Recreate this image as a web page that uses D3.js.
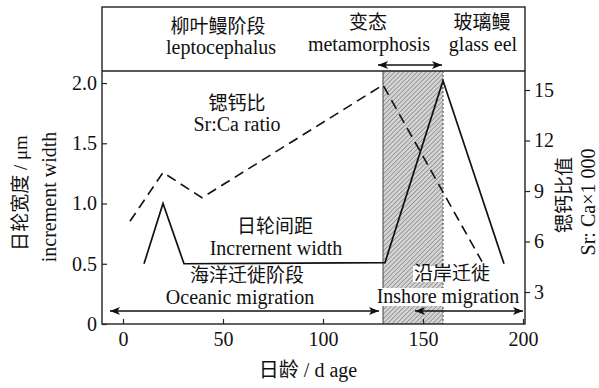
<!DOCTYPE html>
<html>
<head>
<meta charset="utf-8">
<script src="https://cdn.jsdelivr.net/npm/d3@7"></script>
<style>
  body { margin: 0; background: #fff; }
  text { font-family: "Liberation Serif", "Noto Sans CJK SC", serif; fill: #111; }
</style>
</head>
<body>
<div id="chart"></div>
<script>
// increment width (left axis, µm)
const widthDays = [10.5, 20, 30.5, 131, 160, 190.5];
const widthValues = [0.5, 1.0, 0.5, 0.51, 2.02, 0.5];

// Sr:Ca x 1000 (right axis)
const srcaDays = [3.5, 20, 39.5, 130, 179.5];
const srcaValues = [7.2, 10.1, 8.6, 15.3, 4.8];

// metamorphosis period (days)
const metaStart = 130;
const metaEnd = 160;

const xTicks = [0, 50, 100, 150, 200];
const yLeftTicks = [0, 0.5, 1.0, 1.5, 2.0];
const yRightTicks = [3, 6, 9, 12, 15];

const width = 599;
const height = 388;
const mLeft = 102, mRight = 525, mTop = 7, mHeader = 71, mBottom = 324;

const svg = d3.select("#chart")
  .append("svg")
  .attr("width", width)
  .attr("height", height);

const x = d3.scaleLinear().domain([-10.5, 201]).range([mLeft, mRight]);
const yL = d3.scaleLinear().domain([0, 2.1]).range([mBottom, mHeader]);
const yR = d3.scaleLinear().domain([1.1, 16.13]).range([mBottom, mHeader]);

const defs = svg.append("defs");

// hatch for the metamorphosis band
const pat = defs.append("pattern")
  .attr("id", "hatch")
  .attr("patternUnits", "userSpaceOnUse")
  .attr("width", 3.2)
  .attr("height", 3.2)
  .attr("patternTransform", "rotate(45)");
pat.append("rect").attr("width", 3.2).attr("height", 3.2).attr("fill", "#d4d4d4");
pat.append("line")
  .attr("x1", 0).attr("y1", 0).attr("x2", 0).attr("y2", 3.2)
  .attr("stroke", "#6e6e6e").attr("stroke-width", 1.1);

function arrowMarker(id, orient) {
  defs.append("marker")
    .attr("id", id)
    .attr("viewBox", "0 0 10 8")
    .attr("refX", 10)
    .attr("refY", 4)
    .attr("markerWidth", 10)
    .attr("markerHeight", 8)
    .attr("markerUnits", "userSpaceOnUse")
    .attr("orient", orient)
    .append("path")
    .attr("d", "M0,0 L10,4 L0,8 L2.5,4 Z")
    .attr("fill", "#111");
}
arrowMarker("arrEnd", "auto");
arrowMarker("arrStart", "auto-start-reverse");

// shaded band
svg.append("rect")
  .attr("x", x(metaStart))
  .attr("y", mHeader)
  .attr("width", x(metaEnd) - x(metaStart))
  .attr("height", mBottom - mHeader)
  .attr("fill", "url(#hatch)");
svg.append("line")
  .attr("x1", x(metaStart)).attr("x2", x(metaStart))
  .attr("y1", mHeader).attr("y2", mBottom)
  .attr("stroke", "#444").attr("stroke-width", 1);
svg.append("line")
  .attr("x1", x(metaEnd)).attr("x2", x(metaEnd))
  .attr("y1", mHeader).attr("y2", mBottom)
  .attr("stroke", "#444").attr("stroke-width", 1)
  .attr("stroke-dasharray", "2,2");

// text labels with optional white backing
function label(txt, px, py, opts = {}) {
  const t = svg.append("text")
    .attr("x", px)
    .attr("y", py)
    .attr("text-anchor", opts.anchor || "middle")
    .attr("font-size", opts.size || 20)
    .text(txt);
  if (opts.box) {
    const b = t.node().getBBox();
    svg.insert("rect", () => t.node())
      .attr("x", b.x - 1).attr("y", b.y + 3)
      .attr("width", b.width + 2).attr("height", b.height - 5)
      .attr("fill", "#fff");
  }
  return t;
}

// lines
const widthData = widthDays.map((d, i) => ({ day: d, v: widthValues[i] }));
const srcaData = srcaDays.map((d, i) => ({ day: d, v: srcaValues[i] }));

svg.append("path")
  .datum(widthData)
  .attr("fill", "none")
  .attr("stroke", "#111")
  .attr("stroke-width", 1.7)
  .attr("d", d3.line().x(d => x(d.day)).y(d => yL(d.v)));

svg.append("path")
  .datum(srcaData)
  .attr("fill", "none")
  .attr("stroke", "#111")
  .attr("stroke-width", 1.6)
  .attr("stroke-dasharray", "10,6")
  .attr("d", d3.line().x(d => x(d.day)).y(d => yR(d.v)));

// frame
svg.append("rect")
  .attr("x", mLeft).attr("y", mTop)
  .attr("width", mRight - mLeft).attr("height", mBottom - mTop)
  .attr("fill", "none").attr("stroke", "#222").attr("stroke-width", 1.4);
svg.append("line")
  .attr("x1", mLeft).attr("x2", mRight)
  .attr("y1", mHeader).attr("y2", mHeader)
  .attr("stroke", "#222").attr("stroke-width", 1.4);

// axes
const gx = svg.append("g")
  .attr("transform", `translate(0,${mBottom})`)
  .call(d3.axisBottom(x).tickValues(xTicks).tickSize(-5).tickPadding(8));
const gl = svg.append("g")
  .attr("transform", `translate(${mLeft},0)`)
  .call(d3.axisLeft(yL).tickValues(yLeftTicks).tickSize(-5).tickPadding(5)
    .tickFormat(d => d === 0 ? "0" : d.toFixed(1)));
const gr = svg.append("g")
  .attr("transform", `translate(${mRight},0)`)
  .call(d3.axisRight(yR).tickValues(yRightTicks).tickSize(5).tickPadding(4));

[gx, gl, gr].forEach(g => {
  g.select(".domain").remove();
  g.selectAll(".tick line").attr("stroke", "#222").attr("stroke-width", 1.2);
  g.selectAll(".tick text")
    .attr("font-family", "Liberation Serif, serif")
    .attr("font-size", 20)
    .attr("fill", "#111");
});

// header labels
label("柳叶鳗阶段", 218, 33, { size: 19 });
label("leptocephalus", 221, 54);
label("变态", 368, 29, { size: 19 });
label("metamorphosis", 369, 51);
label("玻璃鳗", 482, 29, { size: 19 });
label("glass eel", 483, 51);

// metamorphosis double arrow
svg.append("line")
  .attr("x1", x(metaStart) - 5).attr("x2", x(metaEnd) - 1)
  .attr("y1", 65).attr("y2", 65)
  .attr("stroke", "#111").attr("stroke-width", 1.4)
  .attr("marker-start", "url(#arrStart)")
  .attr("marker-end", "url(#arrEnd)");

// series labels
label("锶钙比", 237, 110, { size: 19 });
label("Sr:Ca ratio", 237, 131);
label("日轮间距", 275, 233, { size: 19 });
label("Incrernent width", 276, 255);
label("海洋迁徙阶段", 247, 282, { size: 19 });
label("Oceanic migration", 240, 304);
label("沿岸迁徙", 452, 280, { size: 19, box: true });
label("Inshore migration", 448, 303, { box: true });

// migration arrows
svg.append("line")
  .attr("x1", 110).attr("x2", x(metaStart) - 4)
  .attr("y1", 311).attr("y2", 311)
  .attr("stroke", "#111").attr("stroke-width", 1.4)
  .attr("marker-start", "url(#arrStart)")
  .attr("marker-end", "url(#arrEnd)");
svg.append("line")
  .attr("x1", 415).attr("x2", mRight - 2)
  .attr("y1", 311).attr("y2", 311)
  .attr("stroke", "#111").attr("stroke-width", 1.4)
  .attr("marker-start", "url(#arrStart)")
  .attr("marker-end", "url(#arrEnd)");

// axis titles
label("日龄 / d age", 308, 377);
label("日轮宽度 / μm", 0, 0, { size: 19 })
  .attr("transform", "translate(27,193) rotate(-90)");
label("increment width", 0, 0)
  .attr("transform", "translate(56,197) rotate(-90)");
label("锶钙比值", 0, 0, { size: 19 })
  .attr("transform", "translate(571,195) rotate(-90)");
label("Sr: Ca×1 000", 0, 0)
  .attr("transform", "translate(595,202) rotate(-90)");
</script>
</body>
</html>
